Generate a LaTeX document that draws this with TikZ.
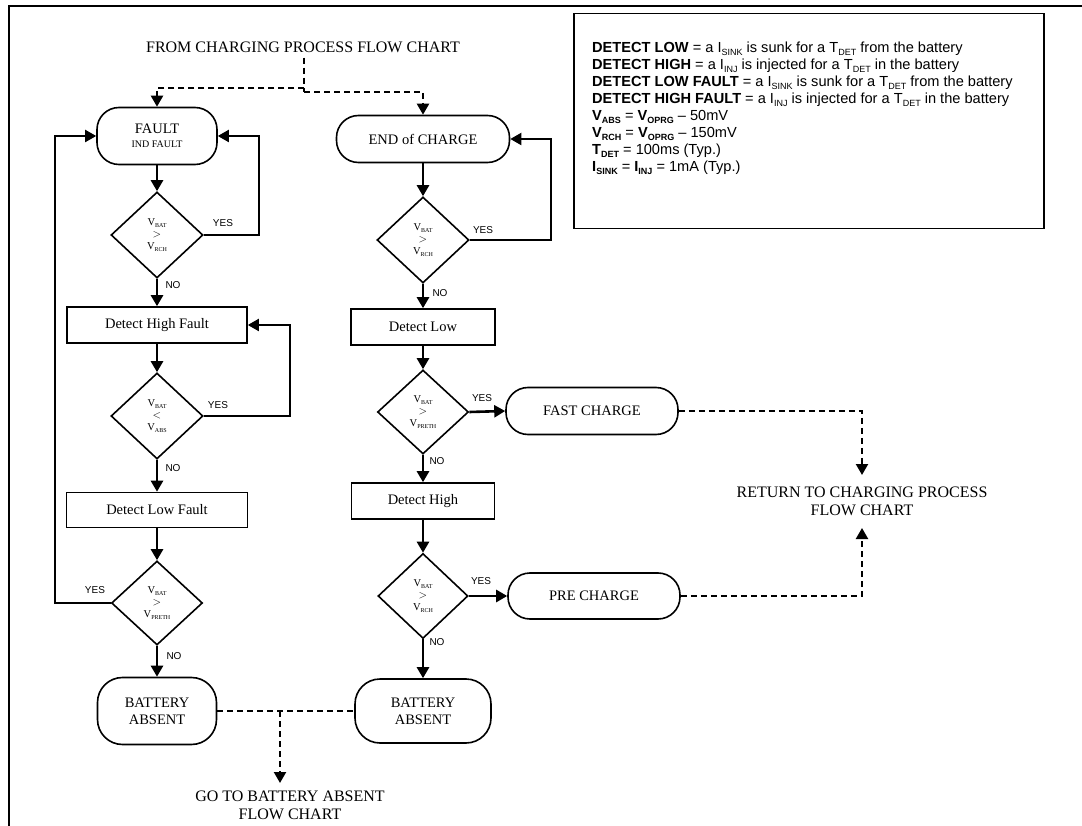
\documentclass[tikz,border=0pt]{standalone}
\usepackage{fontspec}
\setmainfont{Liberation Serif}
\newfontfamily\arial{Liberation Sans}
\usetikzlibrary{arrows.meta,shapes.geometric}
\newcommand\dsub[1]{\raisebox{-0.25ex}{\fontsize{6}{6}\selectfont #1}}
\newcommand\lsub[1]{\raisebox{-0.35ex}{\fontsize{9}{9}\selectfont #1}}
\begin{document}
\begin{tikzpicture}[x=1pt,y=-1pt,
  tip/.style={-{Triangle[length=11pt,width=12pt]}},
  conn/.style={line width=2.6pt,tip},
  loopline/.style={line width=2pt,tip},
  dashline/.style={line width=2.2pt,dash pattern=on 6pt off 4pt},
  term/.style={draw,line width=1.6pt,rounded corners=22pt,align=center,inner sep=0pt,font=\fontsize{14.5}{17}\selectfont},
  proc/.style={draw,line width=1.6pt,inner sep=0pt,font=\fontsize{14.5}{17}\selectfont},
  dec/.style={draw,diamond,line width=1.6pt,inner sep=0pt,minimum width=92pt,minimum height=86pt,align=center,font=\fontsize{10.5}{12}\selectfont},
  lab/.style={font=\arial\fontsize{10}{12}\selectfont,inner sep=0pt},
  big/.style={font=\fontsize{16}{18}\selectfont,align=center,inner sep=0pt},
  leg/.style={anchor=base west,inner sep=0pt,font=\arial\fontsize{14.6}{17}\selectfont}]
\useasboundingbox (0,0) rectangle (1082,826);
% frame
\draw[line width=1.4pt] (1082,6) -- (9,6) -- (9,826);
% legend
\node[draw,line width=1.6pt,minimum width=470pt,minimum height=215pt,inner sep=0pt] (legend) at (809,121) {};
\node[leg] (leg1) at (592,53) {\textbf{DETECT LOW} = a I\lsub{SINK} is sunk for a T\lsub{DET} from the battery};
\node[leg] (leg2) at (592,70) {\textbf{DETECT HIGH} = a I\lsub{INJ} is injected for a T\lsub{DET} in the battery};
\node[leg] (leg3) at (592,87) {\textbf{DETECT LOW FAULT} = a I\lsub{SINK} is sunk for a T\lsub{DET} from the battery};
\node[leg] (leg4) at (592,104) {\textbf{DETECT HIGH FAULT} = a I\lsub{INJ} is injected for a T\lsub{DET} in the battery};
\node[leg] (leg5) at (592,121) {\textbf{V\lsub{ABS}} = \textbf{V\lsub{OPRG}} – 50mV};
\node[leg] (leg6) at (592,138) {\textbf{V\lsub{RCH}} = \textbf{V\lsub{OPRG}} – 150mV};
\node[leg] (leg7) at (592,155) {\textbf{T\lsub{DET}} = 100ms (Typ.)};
\node[leg] (leg8) at (592,172) {\textbf{I\lsub{SINK}} = \textbf{I\lsub{INJ}} = 1mA (Typ.)};
% texts
\node[big] (from) at (303,47) {FROM CHARGING PROCESS FLOW CHART};
\node[big] (ret) at (862,501) {RETURN TO CHARGING PROCESS\\FLOW CHART};
\node[big] (goto) at (290,805) {GO TO BATTERY ABSENT\\FLOW CHART};
% left column
\node[term,minimum width=120pt,minimum height=57pt] (fault) at (157,136) {FAULT\\[-3pt]{\fontsize{10}{11}\selectfont IND FAULT}};
\node[dec] (d1) at (157,235) {V\dsub{BAT}\\$>$\\V\dsub{RCH}};
\node[proc,minimum width=180pt,minimum height=36pt] (dhf) at (157,325) {Detect High Fault};
\node[dec] (d2) at (157,416) {V\dsub{BAT}\\$<$\\V\dsub{ABS}};
\node[proc,minimum width=181pt,minimum height=35pt] (dlf) at (157,510) {Detect Low Fault};
\node[dec,minimum width=91pt,minimum height=84pt] (d3) at (157,603) {V\dsub{BAT}\\$>$\\V\dsub{PRETH}};
\node[term,rounded corners=25pt,minimum width=119pt,minimum height=67pt] (ba1) at (157,711) {BATTERY\\ABSENT};
% right column
\node[term,minimum width=173pt,minimum height=47pt] (endc) at (423,139) {END of CHARGE};
\node[dec] (dr1) at (423,240) {V\dsub{BAT}\\$>$\\V\dsub{RCH}};
\node[proc,minimum width=144pt,minimum height=36pt] (dl) at (423,327) {Detect Low};
\node[dec,minimum width=91pt,minimum height=84pt] (dr2) at (423,412) {V\dsub{BAT}\\$>$\\V\dsub{PRETH}};
\node[term,minimum width=172pt,minimum height=47pt] (fast) at (592,411) {FAST CHARGE};
\node[proc,minimum width=143pt,minimum height=36pt] (dh) at (423,501) {Detect High};
\node[dec,minimum width=90pt,minimum height=85pt] (dr3) at (423,596) {V\dsub{BAT}\\$>$\\V\dsub{RCH}};
\node[term,minimum width=172pt,minimum height=46pt] (pre) at (594,596) {PRE CHARGE};
\node[term,rounded corners=25pt,minimum width=136pt,minimum height=64pt] (ba2) at (423,711) {BATTERY\\ABSENT};
% labels
\node[lab] (y1) at (223,223) {YES};
\node[lab] (n1) at (173,285) {NO};
\node[lab] (y2) at (218,405) {YES};
\node[lab] (n2) at (173,468) {NO};
\node[lab] (y3) at (95,590) {YES};
\node[lab] (n3) at (174,656) {NO};
\node[lab] (yr1) at (483,230) {YES};
\node[lab] (nr1) at (440,293) {NO};
\node[lab] (yr2) at (482,398) {YES};
\node[lab] (nr2) at (437,461) {NO};
\node[lab] (yr3) at (481,581) {YES};
\node[lab] (nr3) at (437,642) {NO};
% coordinates
\coordinate (j1) at (304,88);
\coordinate (j2) at (304,92);
\coordinate (rt) at (862,475);
\coordinate (rb) at (862,528);
\coordinate (jb) at (280,711);
\coordinate (gt) at (280,783);
% dashed connectors
\draw[dashline] ([yshift=-5pt]from.south -| j2) -- (j2);
\draw[dashline,tip] (j1) -- (fault.north |- j1) -- (fault.north);
\draw[dashline,tip] (j2) -- (endc.north |- j2) -- (endc.north);
\draw[dashline,tip] (fast.east) -- (fast.east -| rt) -- (rt);
\draw[dashline,tip] (pre.east) -- (pre.east -| rb) -- (rb);
\draw[dashline] (ba1.east) -- (ba2.west);
\draw[dashline,tip] (jb) -- (gt);
% solid connectors
\draw[conn] (fault.south) -- (d1.north);
\draw[conn] (d1.south) -- (dhf.north);
\draw[conn] (dhf.south) -- (d2.north);
\draw[conn] (d2.south) -- (dlf.north);
\draw[conn] (dlf.south) -- (d3.north);
\draw[conn] (d3.south) -- (ba1.north);
\draw[conn] (endc.south) -- (dr1.north);
\draw[conn] (dr1.south) -- (dl.north);
\draw[conn] (dl.south) -- (dr2.north);
\draw[conn] (dr2.south) -- (dh.north);
\draw[conn] (dh.south) -- (dr3.north);
\draw[conn] (dr3.south) -- (ba2.north);
\draw[conn] (dr2.east) -- (fast.west);
\draw[conn] (dr3.east) -- (pre.west);
% loops
\draw[loopline] (d1.east) -- ++(55,0) |- (fault.east);
\draw[loopline] (d2.east) -- ++(86,0) |- (dhf.east);
\draw[loopline] (d3.west) -- ++(-55.5,0) |- (fault.west);
\draw[loopline] (dr1.east) -- ++(81,0) |- (endc.east);
\end{tikzpicture}
\end{document}
